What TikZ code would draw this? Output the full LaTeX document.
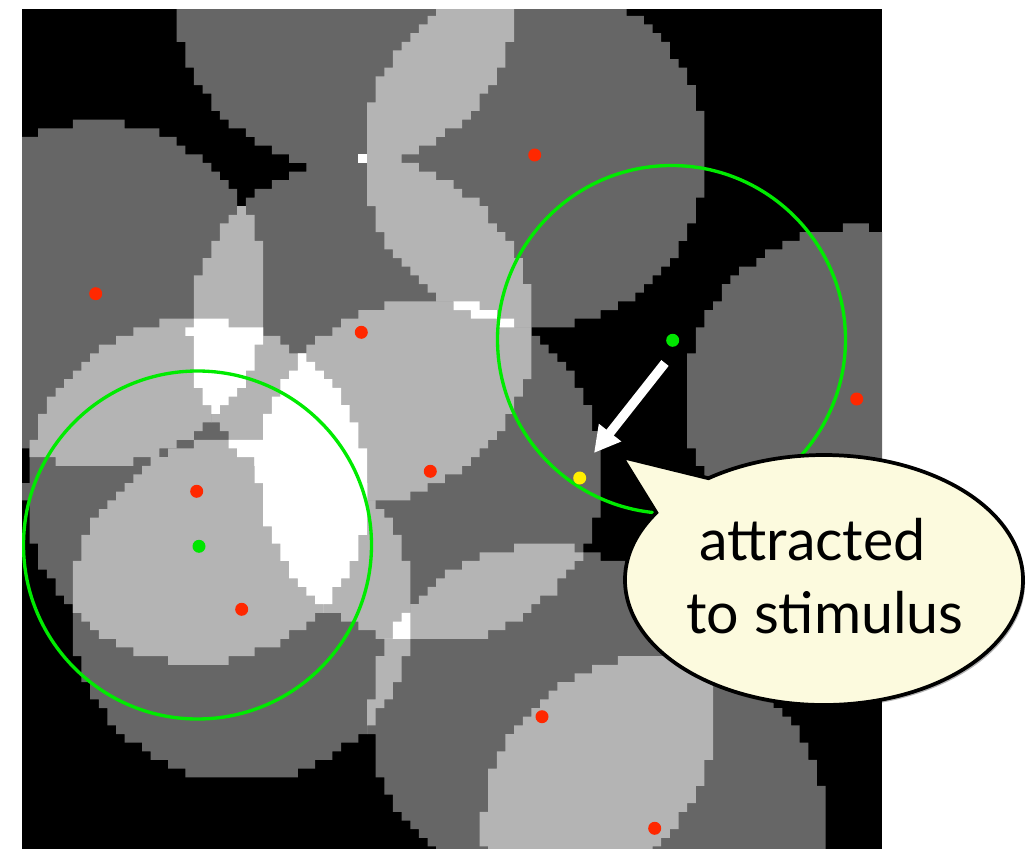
\documentclass[tikz,border=0pt]{standalone}
\usepackage{fontspec}
\setmainfont{Lato}
\usetikzlibrary{arrows.meta,shadows,calc}

\definecolor{dkg}{RGB}{102,102,102}
\definecolor{ltg}{RGB}{180,180,180}
\definecolor{ringgreen}{RGB}{0,235,0}
\definecolor{dotred}{RGB}{255,40,0}
\definecolor{dotgreen}{RGB}{0,230,0}
\definecolor{dotyellow}{RGB}{255,240,0}
\definecolor{cream}{RGB}{252,250,222}

% radius of a coverage disk, in grid cells
\def\GR{19.85}
% \pixdisk{name}{cx}{cy}: pixelated disk (union of row rectangles), grid-cell units
\newcommand\pixdisk[3]{%
  \gdef\pixacc{}%
  \pgfmathtruncatemacro\pdjlo{max(0,ceil(#3-\GR-0.5))}%
  \pgfmathtruncatemacro\pdjhi{min(98,floor(#3+\GR-0.5))}%
  \foreach \pdj in {\pdjlo,...,\pdjhi}{%
    \pgfmathsetmacro\pddy{\pdj+0.5-(#3)}%
    \pgfmathsetmacro\pdr{\GR*\GR-\pddy*\pddy}%
    \ifdim\pdr pt>0pt
      \pgfmathsetmacro\pdw{sqrt(\pdr)}%
      \pgfmathtruncatemacro\pdilo{ceil(#2-\pdw-0.5)}%
      \pgfmathtruncatemacro\pdihi{floor(#2+\pdw-0.5)+1}%
      \pgfmathtruncatemacro\pdjj{\pdj+1}%
      \ifnum\pdilo<\pdihi
        \xdef\pixacc{\pixacc (\pdilo,\pdj) rectangle (\pdihi,\pdjj)}%
      \fi
    \fi
  }%
  \global\expandafter\let\csname pd#1\endcsname\pixacc
}
\newcommand\pdfill[2]{\edef\pdtmp{\noexpand\fill[#1]\csname pd#2\endcsname;}\pdtmp}
\newcommand\pdclip[1]{\edef\pdtmp{\noexpand\clip\csname pd#1\endcsname;}\pdtmp}

\tikzset{
  ring/.style={draw=ringgreen, line width=2.5pt},
  reddot/.style={circle, fill=dotred, inner sep=0pt, minimum size=9.75pt},
  greendot/.style={circle, fill=dotgreen, inner sep=0pt, minimum size=9.75pt},
  yellowdot/.style={circle, fill=dotyellow, inner sep=0pt, minimum size=9.75pt},
  movearrow/.style={draw=white, line width=7pt, -{Triangle[length=19.5pt,width=20pt]}},
  bubble/.style={fill=cream, draw=black, line width=2.8pt,
    drop shadow={shadow xshift=1.5pt, shadow yshift=-2pt, opacity=.3, fill=black}},
  lbl/.style={inner sep=0pt, font=\fontsize{43}{50}\selectfont, text=black},
}

\begin{document}
\begin{tikzpicture}[x=0.75pt,y=-0.75pt]
\useasboundingbox (0,0) rectangle (1026,849);
\pixdisk{P}{37.5}{-0.4}%
\pixdisk{A}{59.38}{18.09}%
\pixdisk{B}{8.64}{34.12}%
\pixdisk{C}{39.34}{38.34}%
\pixdisk{D}{47.31}{54.64}%
\pixdisk{E}{20.32}{56.95}%
\pixdisk{F}{25.52}{70.59}%
\pixdisk{G}{96.59}{46.28}%
\pixdisk{H}{60.22}{83.00}%
\pixdisk{I}{73.25}{95.90}%

% coverage map: 1 disk dark, 2 disks light, 3 or more white
\begin{scope}
\clip (22,9.3) rectangle (882,849);
\fill[black] (22,9.3) rectangle (882,849);
\begin{scope}[shift={(20.9,-1.5)},scale=8.653]
  \foreach \a in {P,A,B,C,D,E,F,G,H,I} {\pdfill{dkg}{\a}}
  \foreach \a/\b in {P/A,A/C,A/D,B/C,B/E,C/D,C/E,C/F,D/E,D/F,D/H,E/F,F/H,H/I} {%
    \begin{scope}\pdclip{\a}\pdfill{ltg}{\b}\end{scope}}
  \foreach \a/\b/\c in {A/C/D,B/C/E,C/D/E,C/D/F,C/E/F,D/E/F,D/F/H} {%
    \begin{scope}\pdclip{\a}\pdclip{\b}\pdfill{white}{\c}\end{scope}}
  % single triple-covered cell where three disks just touch
  \fill[white] (39,18) rectangle (40,19);
\end{scope}

% sensing ranges of the two agents
\draw[ring] (671.5,339.5) circle[radius=174];
\draw[ring] (197.5,545) circle[radius=174];

% disk centres
\node[reddot] (cA) at (534.7,155) {};
\node[reddot] (cB) at (95.7,293.7) {};
\node[reddot] (cC) at (361.3,332.3) {};
\node[reddot] (cD) at (430.3,471.3) {};
\node[reddot] (cE) at (196.7,491.3) {};
\node[reddot] (cF) at (241.7,609.3) {};
\node[reddot] (cG) at (856.7,399) {};
\node[reddot] (cH) at (542,716.7) {};
\node[reddot] (cI) at (654.7,828.3) {};
\node[greendot] (ag1) at (672.7,340.3) {};
\node[greendot] (ag2) at (199,546.3) {};
\node[yellowdot] (stim) at (579.7,478) {};

% movement arrow
\coordinate (arS) at (665,363);
\coordinate (arE) at (594,453);
\draw[movearrow] (arS) -- (arE);
\end{scope}

% callout
\coordinate (bc) at (824,580);
\coordinate (tip) at (622,457);
\path[bubble] ($(bc)+(234.5:199 and 125)$) -- (tip) -- ($(bc)+(212.6:199 and 125)$)
  arc[start angle=212.6, end angle=-125.5, x radius=199, y radius=125] -- cycle;
\node[lbl, anchor=base] (t1) at (812.5,560) {attracted};
\node[lbl, anchor=base] (t2) at (825,633) {to stimulus};
\end{tikzpicture}
\end{document}
